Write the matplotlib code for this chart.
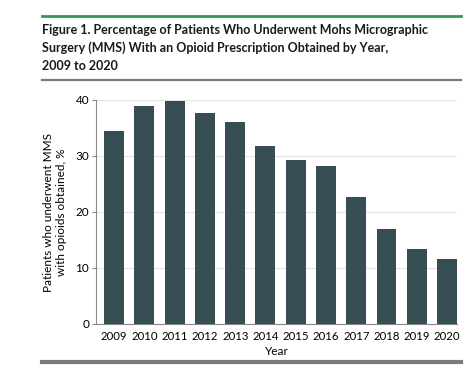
import numpy as np
import matplotlib
matplotlib.use('Agg')
import matplotlib.pyplot as plt
from matplotlib.lines import Line2D

years = ['2009', '2010', '2011', '2012', '2013', '2014', '2015', '2016', '2017', '2018', '2019', '2020']
pct = [34.5, 39.0, 39.9, 37.7, 36.1, 31.8, 29.2, 28.2, 22.7, 17.0, 13.4, 11.6]
yticks = [0, 10, 20, 30, 40]

plt.rcParams['font.family'] = ['Lato', 'DejaVu Sans']

fig = plt.figure(figsize=(4.74, 3.76), dpi=100)
W, H = 474, 376

# header rules
fig.add_artist(Line2D([42 / W, 461 / W], [1 - 16 / H, 1 - 16 / H], color='#2e9b4f', lw=2))
fig.add_artist(Line2D([42 / W, 461 / W], [1 - 80 / H, 1 - 80 / H], color='#7a7a7a', lw=1.6))
fig.add_artist(Line2D([42 / W, 461 / W], [1 - 362 / H, 1 - 362 / H], color='#7a7a7a', lw=3))

fig.text(42 / W, 1 - 24 / H,
         'Figure 1. Percentage of Patients Who Underwent Mohs Micrographic\n'
         'Surgery (MMS) With an Opioid Prescription Obtained by Year,\n'
         '2009 to 2020',
         ha='left', va='top', fontsize=9.0, fontweight='bold', color='#1a1a1a',
         linespacing=1.55)

ax = fig.add_axes([96 / W, 52 / H, 361 / W, 224 / H])
x = np.arange(len(years))
ax.bar(x, pct, width=0.66, color='#354d53', zorder=3)
ax.set_xlim(-0.6, 11.33)
ax.set_ylim(0, 40)
ax.set_yticks(yticks)
ax.set_xticks(x)
ax.set_xticklabels(years)
ax.grid(axis='y', color='#e3e3e3', lw=0.8, zorder=0)
for s in ['top', 'right']:
    ax.spines[s].set_visible(False)
ax.spines['left'].set_color('#888888')
ax.spines['bottom'].set_color('#888888')
ax.spines['left'].set_linewidth(0.8)
ax.spines['bottom'].set_linewidth(0.8)
ax.tick_params(axis='y', length=3, color='#888888', labelsize=8.5, pad=2)
ax.tick_params(axis='x', length=0, labelsize=8.2, pad=5)
ax.set_xlabel('Year', fontsize=8.5, labelpad=3)
ax.set_ylabel('Patients who underwent MMS\nwith opioids obtained, %', fontsize=8.5, labelpad=6)

fig.savefig('out.png', dpi=100)
